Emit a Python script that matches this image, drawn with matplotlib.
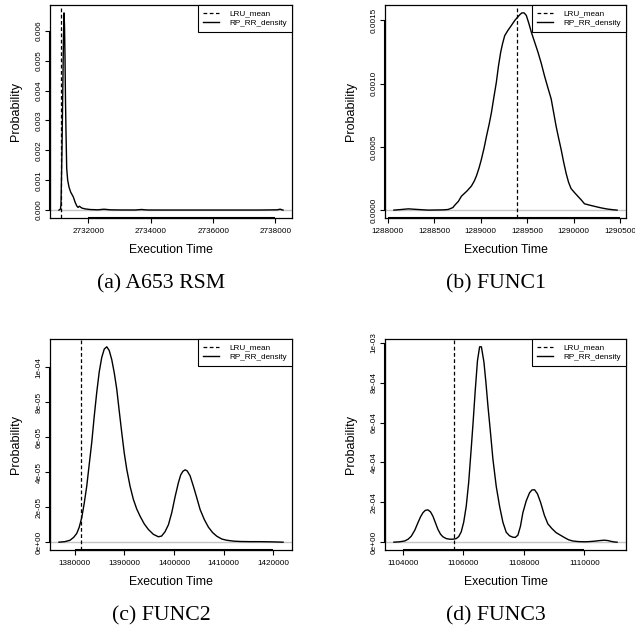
import matplotlib
matplotlib.use("Agg")
import matplotlib.pyplot as plt
import matplotlib.transforms as mtransforms

# Density curves (execution time, probability)
a_time = [2731055, 2731100, 2731120, 2731152, 2731184, 2731200, 2731216, 2731232,
          2731248, 2731264, 2731281, 2731303, 2731335, 2731377, 2731432, 2731474,
          2731516, 2731571, 2731626, 2731668, 2731710, 2731748, 2731787, 2731894,
          2732055, 2732300, 2732500, 2732700, 2733000, 2733500, 2733700, 2733900,
          2734500, 2736000, 2737500, 2738050, 2738150, 2738242]
a_prob = [0.0, 0.00003, 0.00017, 0.0020, 0.0045, 0.0058, 0.0066, 0.0062,
          0.0052, 0.0037, 0.0026, 0.0014, 0.00100, 0.00077, 0.0006, 0.00052,
          0.00044, 0.00027, 0.00014, 0.00009, 0.00013, 0.0001, 0.00007, 0.00004,
          0.00002, 0.00001, 0.00003, 0.00001, 0.000005, 0.000004, 0.00002, 0.000004,
          0.000003, 0.000003, 0.000003, 0.00001, 0.00003, 0.0]

b_time = [1288067, 1288150, 1288221, 1288300, 1288436, 1288600, 1288650, 1288700,
          1288722, 1288760, 1288792, 1288850, 1288899, 1288930, 1288953, 1288980,
          1289006, 1289035, 1289060, 1289090, 1289114, 1289140, 1289167, 1289190,
          1289214, 1289235, 1289257, 1289290, 1289328, 1289365, 1289400, 1289425,
          1289442, 1289465, 1289489, 1289515, 1289542, 1289578, 1289614, 1289650,
          1289685, 1289720, 1289756, 1289783, 1289810, 1289836, 1289863, 1289890,
          1289917, 1289943, 1289970, 1290005, 1290042, 1290080, 1290114, 1290165,
          1290221, 1290290, 1290363, 1290420, 1290464]
b_prob = [0.0, 0.000005, 0.00001, 0.000006, 0.0, 0.000002, 0.000005, 0.00002,
          0.00004, 0.00007, 0.00011, 0.00015, 0.00019, 0.00023, 0.00027, 0.00033,
          0.0004, 0.00049, 0.00058, 0.00068, 0.00077, 0.00089, 0.00101, 0.00114,
          0.00125, 0.00132, 0.00138, 0.00142, 0.00146, 0.0015, 0.00153, 0.00155,
          0.00156, 0.00156, 0.00154, 0.00148, 0.00141, 0.00133, 0.00125, 0.00116,
          0.00106, 0.00097, 0.00088, 0.00077, 0.00066, 0.00057, 0.00048, 0.00038,
          0.00029, 0.00022, 0.00017, 0.00014, 0.00011, 0.00008, 0.00005, 0.00004,
          0.00003, 0.000018, 0.000008, 0.000003, 0.0]

c_time = [1376826, 1378000, 1379052, 1379800, 1380403, 1380900, 1381411, 1381900,
          1382419, 1382900, 1383427, 1383930, 1384435, 1384940, 1385443, 1385950,
          1386451, 1386950, 1387459, 1387960, 1388467, 1388970, 1389475, 1389980,
          1390483, 1391150, 1391814, 1392490, 1393162, 1394000, 1394835, 1395840,
          1396851, 1397500, 1398200, 1398880, 1399551, 1400220, 1400882, 1401350,
          1401800, 1402250, 1402650, 1403240, 1403908, 1404580, 1405259, 1406100,
          1406932, 1407780, 1408627, 1409640, 1410643, 1412000, 1413324, 1415300,
          1417357, 1419700, 1421966]
c_prob = [0.0, 0.0000003, 0.0000011, 0.0000028, 0.000005, 0.0000085, 0.000014, 0.000022,
          0.000032, 0.000044, 0.000057, 0.000072, 0.0000857, 0.0000975, 0.0001057, 0.0001105,
          0.0001118, 0.0001097, 0.0001045, 0.000097, 0.0000876, 0.000075, 0.0000627, 0.000051,
          0.0000417, 0.000032, 0.0000245, 0.000019, 0.0000149, 0.0000105, 0.0000073, 0.0000045,
          0.0000031, 0.0000035, 0.000006, 0.00001, 0.0000169, 0.000026, 0.000034, 0.0000385,
          0.0000406, 0.0000414, 0.0000408, 0.000038, 0.000032, 0.0000255, 0.0000187, 0.000013,
          0.0000086, 0.0000055, 0.0000034, 0.0000018, 0.0000011, 0.0000006, 0.0000004, 0.0000003,
          0.0000003, 0.0000002, 0.0]

d_time = [1103711, 1103900, 1104066, 1104180, 1104284, 1104400, 1104505, 1104590,
          1104670, 1104750, 1104835, 1104920, 1105000, 1105080, 1105165, 1105250,
          1105330, 1105440, 1105551, 1105660, 1105769, 1105850, 1105934, 1106015,
          1106099, 1106180, 1106264, 1106330, 1106396, 1106470, 1106541, 1106600,
          1106683, 1106750, 1106815, 1106900, 1106980, 1107090, 1107201, 1107310,
          1107419, 1107530, 1107640, 1107720, 1107805, 1107890, 1107970, 1108080,
          1108191, 1108270, 1108356, 1108450, 1108554, 1108680, 1108795, 1108930,
          1109067, 1109200, 1109346, 1109480, 1109620, 1109800, 1110006, 1110170,
          1110336, 1110500, 1110666, 1110780, 1110884, 1111000, 1111081]
d_prob = [0.0, 0.000002, 0.000006, 0.000015, 0.00003, 0.00006, 0.000098, 0.000127,
          0.000148, 0.00016, 0.000162, 0.000152, 0.00013, 0.000098, 0.000064, 0.00004,
          0.000027, 0.000018, 0.000015, 0.000015, 0.000018, 0.000028, 0.000052, 0.0001,
          0.00018, 0.0003, 0.00047, 0.00061, 0.00076, 0.00091, 0.00098, 0.00098,
          0.000904, 0.0008, 0.000685, 0.00055, 0.000417, 0.00028, 0.00018, 0.0001,
          0.00005, 0.000032, 0.000025, 0.000024, 0.000035, 0.00008, 0.000148, 0.000207,
          0.000248, 0.000262, 0.000263, 0.000243, 0.0002, 0.000135, 0.000092, 0.000068,
          0.000048, 0.000036, 0.000023, 0.000012, 0.000006, 0.000003, 0.000002, 0.000003,
          0.000005, 0.000008, 0.00001, 0.000008, 0.000004, 0.000001, 0.0]

lru_mean = [2731110, 1289392, 1381210, 1105703]
captions = ['(a) A653 RSM', '(b) FUNC1', '(c) FUNC2', '(d) FUNC3']

x_ticks = [[2732000, 2734000, 2736000, 2738000],
           [1288000, 1288500, 1289000, 1289500, 1290000, 1290500],
           [1380000, 1390000, 1400000, 1410000, 1420000],
           [1104000, 1106000, 1108000, 1110000]]
y_ticks = [[0.0, 0.001, 0.002, 0.003, 0.004, 0.005, 0.006],
           [0.0, 0.0005, 0.0010, 0.0015],
           [0.0, 2e-05, 4e-05, 6e-05, 8e-05, 1e-04],
           [0.0, 2e-04, 4e-04, 6e-04, 8e-04, 1e-03]]
y_labels = [['0.000', '0.001', '0.002', '0.003', '0.004', '0.005', '0.006'],
            ['0.0000', '0.0005', '0.0010', '0.0015'],
            ['0e+00', '2e-05', '4e-05', '6e-05', '8e-05', '1e-04'],
            ['0e+00', '2e-04', '4e-04', '6e-04', '8e-04', '1e-03']]

times = [a_time, b_time, c_time, d_time]
probs = [a_prob, b_prob, c_prob, d_prob]

W, H = 635, 628
# axes boxes in pixels: left, top, right, bottom
boxes = [(50, 5, 292, 218), (385, 5, 626, 218),
         (50, 339, 292, 550), (385, 339, 626, 550)]

plt.rcParams['font.family'] = ['Liberation Sans', 'DejaVu Sans']


def r_lim(vals):
    # R's default 4% axis extension
    lo, hi = min(vals), max(vals)
    r = hi - lo
    return lo - 0.04 * r, hi + 0.04 * r


fig = plt.figure(figsize=(W / 100, H / 100), dpi=100)

for i in range(4):
    l, t, r, b = boxes[i]
    ax = fig.add_axes([l / W, 1 - b / H, (r - l) / W, (b - t) / H])

    ax.axhline(0, color='#c4c4c4', lw=1.0, zorder=1)
    ax.axvline(lru_mean[i], color='black', lw=0.9, ls=(0, (3, 2)),
               label='LRU_mean', zorder=2)
    ax.plot(times[i], probs[i], color='black', lw=1.0, label='RP_RR_density', zorder=3)

    ax.set_xlim(r_lim(times[i]))
    ax.set_ylim(r_lim(probs[i]))

    ax.set_xticks(x_ticks[i])
    ax.set_xticklabels([str(v) for v in x_ticks[i]])
    ax.set_yticks(y_ticks[i])
    ax.set_yticklabels(y_labels[i], rotation=90, va='center')
    ax.tick_params(axis='x', length=3.6, width=0.8, pad=3.5, labelsize=5.9)
    ax.tick_params(axis='y', length=3.6, width=0.8, pad=1.5, labelsize=5.9)

    for s in ax.spines.values():
        s.set_linewidth(0.9)

    # R-style axis lines running from first to last tick
    tx = mtransforms.blended_transform_factory(ax.transData, ax.transAxes)
    ax.plot([x_ticks[i][0], x_ticks[i][-1]], [0, 0], color='black', lw=1.5,
            transform=tx, clip_on=False, solid_capstyle='butt')
    ty = mtransforms.blended_transform_factory(ax.transAxes, ax.transData)
    ax.plot([0, 0], [y_ticks[i][0], y_ticks[i][-1]], color='black', lw=1.5,
            transform=ty, clip_on=False, solid_capstyle='butt')

    ax.set_xlabel('Execution Time', fontsize=8.8, va='center')
    ax.xaxis.set_label_coords(0.5, -32 / (b - t))
    ax.set_ylabel('Probability', fontsize=9, va='center')
    ax.yaxis.set_label_coords(-34 / (r - l), 0.5)

    handles, labels = ax.get_legend_handles_labels()
    leg = ax.legend(handles[:2], labels[:2], loc='upper right', borderaxespad=0,
                    fontsize=5.85, fancybox=False, edgecolor='black', framealpha=1,
                    handlelength=2.0, handletextpad=1.3, borderpad=0.6,
                    labelspacing=0.25)
    leg.get_frame().set_linewidth(0.8)

    cx = (l + r) / 2 - 10
    cy = b + 66
    fig.text(cx / W, 1 - cy / H, captions[i], ha='center', va='center',
             fontsize=15.7, family=['Liberation Serif', 'DejaVu Serif'])

fig.savefig('out.png', dpi=100)
